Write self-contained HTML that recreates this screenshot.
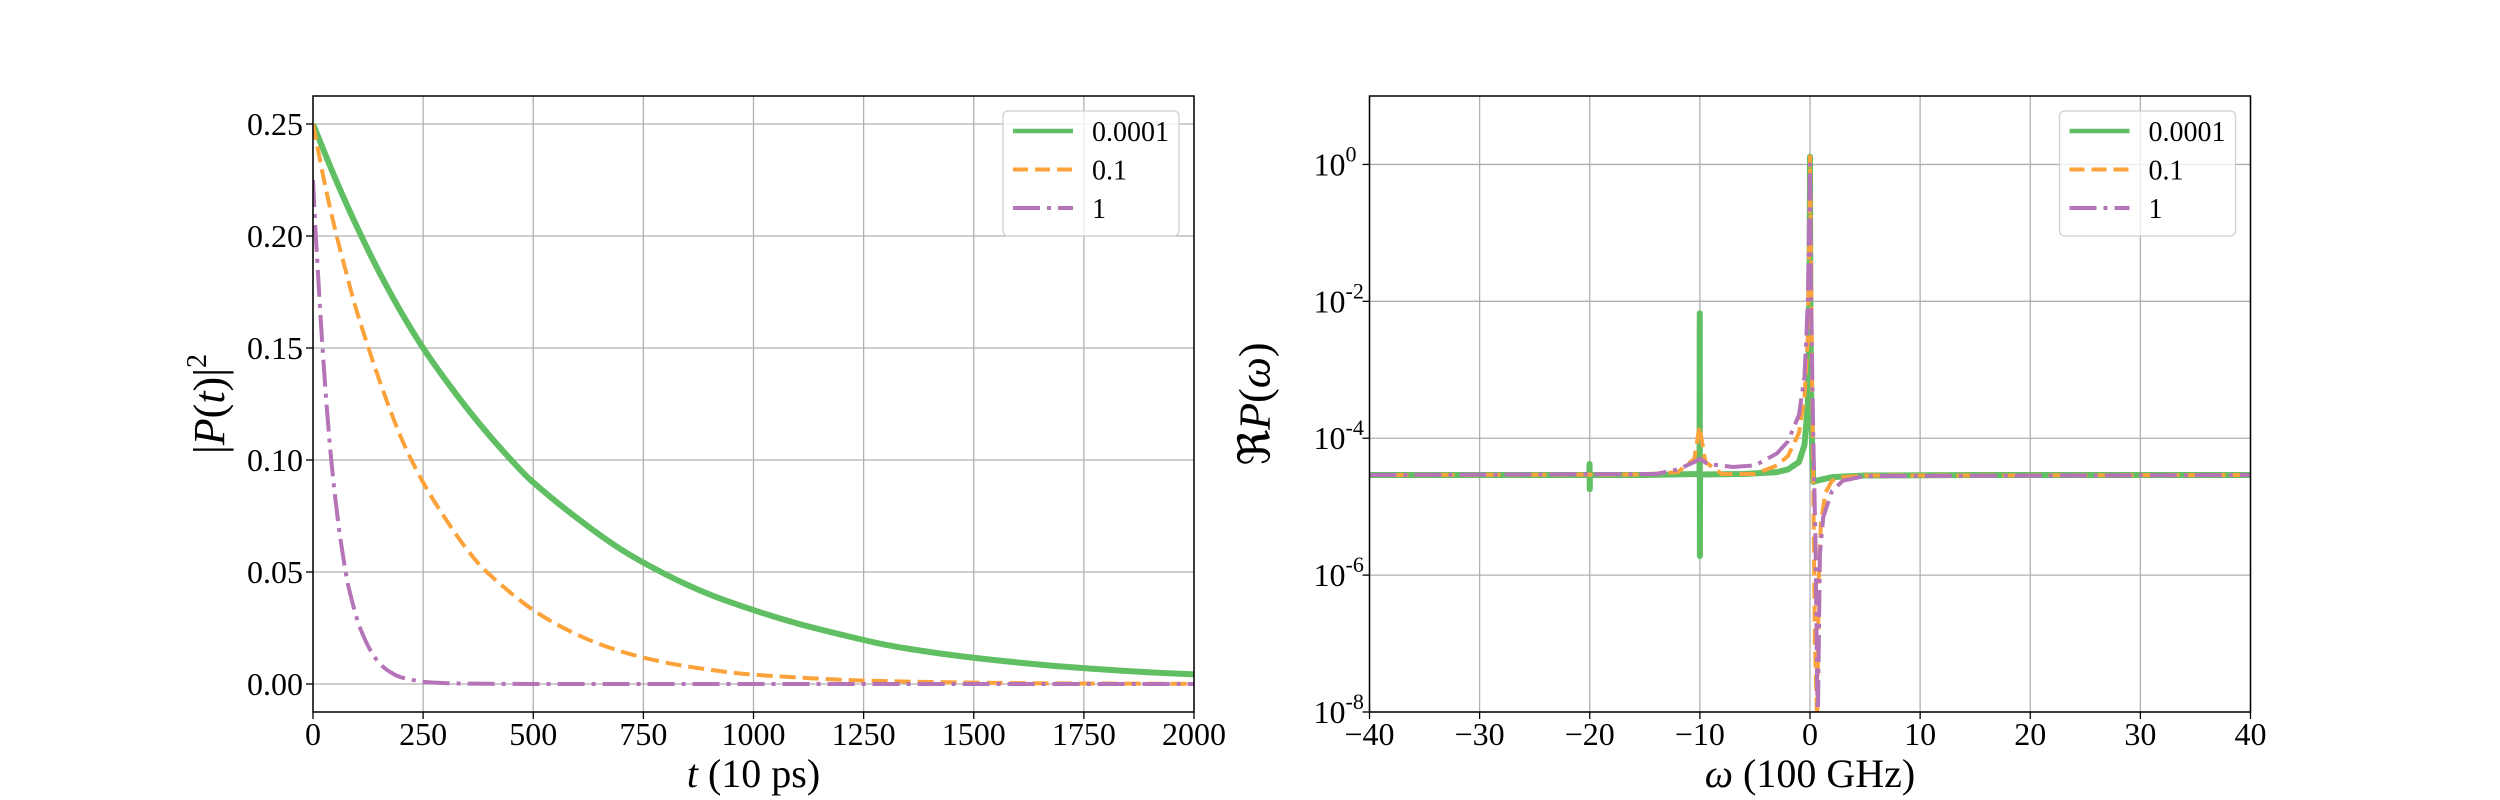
<!DOCTYPE html>
<html><head><meta charset="utf-8"><style>
html,body{margin:0;padding:0;background:#fff;}
svg{display:block;font-family:"Liberation Serif","DejaVu Serif",serif;}
</style></head><body>
<svg id="fig" width="2500" height="800" viewBox="0 0 2500 800" xmlns="http://www.w3.org/2000/svg">
<g id="left"></g>
<g id="right"></g>
</svg>
<script>
// ---------- data: left panel ----------
const tGreen = [0,50,100,150,200,250,300,350,400,450,500,600,700,800,900,1000,1100,1200,1300,1400,1500,1600,1700,1800,1900,2000];
const pGreen = [0.25,0.226,0.204,0.184,0.166,0.150,0.136,0.123,0.111,0.100,0.090,0.074,0.060,0.049,0.040,0.033,0.027,0.022,0.0175,0.0143,0.0117,0.0096,0.0078,0.0064,0.0052,0.0043];
const tOrange = [0,25,50,75,100,150,200,250,300,350,400,500,600,700,800,900,1000,1200,1400,1600,1800,2000];
const pOrange = [0.25,0.225,0.203,0.184,0.166,0.136,0.110,0.090,0.074,0.060,0.049,0.033,0.022,0.0145,0.0096,0.0064,0.0042,0.0019,0.0009,0.0004,0.0002,0.0001];
const tPurple = [0,5,10,20,30,40,50,60,70,80,100,120,140,160,180,200,250,300,400,600,1000,1500,2000];
const pPurple = [0.225,0.205,0.188,0.155,0.127,0.103,0.084,0.068,0.055,0.044,0.029,0.019,0.012,0.0075,0.0048,0.003,0.001,0.0004,0.0001,0,0,0,0];
const xTicksL = [0,250,500,750,1000,1250,1500,1750,2000];
const yTicksL = [0,0.05,0.10,0.15,0.20,0.25];
const yTickLabelsL = ["0.00","0.05","0.10","0.15","0.20","0.25"];

// ---------- data: right panel ----------
const wGreen = [-40,-25,-20.05,-20.02,-20,-19.98,-15,-10.1,-10.03,-10.01,-10,-9.98,-9.9,-6,-3,-2,-1,-0.5,-0.2,-0.1,-0.03,0,0.03,0.1,0.2,0.3,0.6,2,5,15,40];
const rGreen = [2.9e-5,2.9e-5,2.9e-5,4.2e-5,1.8e-5,2.9e-5,2.9e-5,3.0e-5,3.0e-5,6.7e-3,1.9e-6,3.0e-5,2.95e-5,3.0e-5,3.2e-5,3.5e-5,4.5e-5,8e-5,3e-4,2e-3,5e-2,1.3,1e-2,5e-4,6e-5,2.3e-5,2.4e-5,2.7e-5,2.85e-5,2.9e-5,2.9e-5];
const wOrange = [-40,-15,-12,-10.5,-10.1,-10,-9.9,-9.5,-8,-5,-3,-2,-1,-0.5,-0.2,-0.05,0,0.1,0.2,0.3,0.45,0.6,0.65,0.8,1.0,1.4,2,3,5,40];
const rOrange = [2.9e-5,2.95e-5,3.2e-5,5e-5,1.3e-4,1.5e-4,1.1e-4,4.5e-5,3.0e-5,3.0e-5,4e-5,5.5e-5,1.2e-4,4e-4,3e-3,1e-1,1.3,3e-2,5e-4,2e-5,1e-7,1.5e-8,5e-9,1e-6,6e-6,1.6e-5,2.4e-5,2.7e-5,2.85e-5,2.9e-5];
const wPurple = [-40,-14,-12,-10.5,-10,-9.3,-7,-5,-3,-2,-1,-0.5,-0.3,-0.2,0,0.1,0.3,0.5,0.7,0.9,1.2,2,3,5,40];
const rPurple = [2.9e-5,3.0e-5,3.5e-5,4.5e-5,5e-5,4.2e-5,3.8e-5,4.0e-5,6e-5,9e-5,2.2e-4,8e-4,4e-3,1e-2,1.0,1e-2,1e-4,3e-6,5e-9,2e-6,7e-6,1.7e-5,2.4e-5,2.8e-5,2.9e-5];
const xTicksR = [-40,-30,-20,-10,0,10,20,30,40];
const yExpR = [0,-2,-4,-6,-8];

const legendLabels = ["0.0001","0.1","1"];
const colors = ["#5fbf62","#fca23a","#b474b7"];
const dashes = ["", "16 7", "27 7 4 7"];
const widths = [6,4,4];
const legendWidths = [4.5,4,4];

const NS="http://www.w3.org/2000/svg";
function mk(tag,attrs,parent){const e=document.createElementNS(NS,tag);for(const k in attrs)e.setAttribute(k,attrs[k]);parent.appendChild(e);return e;}

function smoothPath(P){
  let d='M'+P[0][0].toFixed(2)+','+P[0][1].toFixed(2);
  for(let i=0;i<P.length-1;i++){
    const p0=P[Math.max(0,i-1)],p1=P[i],p2=P[i+1],p3=P[Math.min(P.length-1,i+2)];
    const c1=[p1[0]+(p2[0]-p0[0])/6,p1[1]+(p2[1]-p0[1])/6];
    const c2=[p2[0]-(p3[0]-p1[0])/6,p2[1]-(p3[1]-p1[1])/6];
    d+='C'+c1[0].toFixed(2)+','+c1[1].toFixed(2)+' '+c2[0].toFixed(2)+','+c2[1].toFixed(2)+' '+p2[0].toFixed(2)+','+p2[1].toFixed(2);
  }
  return d;
}

const yTop=96,yBot=712;
function panel(g,x0,x1,xs,ys,xt,xtl,yt,ytl,isLog,series,xlabel,ylabel,smooth){
  xt.forEach((v,i)=>{const x=xs(v);
    const gl=mk('line',{x1:x,x2:x,y1:yTop,y2:yBot,stroke:'#b0b0b0','stroke-width':1.3},g);
    
    
    mk('line',{x1:x,x2:x,y1:yBot,y2:yBot+7,stroke:'#000','stroke-width':1.3},g);
    const t=mk('text',{x:x,y:745,'font-size':32,'text-anchor':'middle'},g);
    
    
    t.textContent=xtl[i];});
  yt.forEach((v,i)=>{const y=ys(v);
    const gl=mk('line',{x1:x0,x2:x1,y1:y,y2:y,stroke:'#b0b0b0','stroke-width':1.3},g);
    
    
    mk('line',{x1:x0-7,x2:x0,y1:y,y2:y,stroke:'#000','stroke-width':1.3},g);
    const t=mk('text',{x:isLog?x0-24:x0-10,y:y+11,'font-size':32,'text-anchor':'end'},g);
    
    
    if(isLog){t.textContent='10';
      const s2=mk('text',{x:x0-24,y:y-3,'font-size':22},g);
      
      
      s2.textContent=ytl[i];}
    else t.textContent=ytl[i];});
  const cid='clip'+Math.round(x0);
  const cp=mk('clipPath',{id:cid},g);mk('rect',{x:x0,y:yTop,width:x1-x0,height:yBot-yTop},cp);
  series.forEach((s,k)=>{
    const P=s.x.map((v,i)=>{let Y=ys(s.y[i]);if(!isFinite(Y))Y=yBot+50;return [xs(v),Y];});
    let d;
    if(smooth) d=smoothPath(P);
    else d=P.map((p,i)=>(i?'L':'M')+p[0].toFixed(2)+','+p[1].toFixed(2)).join('');
    const p=mk('path',{d:d,fill:'none',stroke:colors[k],'stroke-width':widths[k],'clip-path':'url(#'+cid+')','stroke-linejoin':'round'},g);
    if(dashes[k])p.setAttribute('stroke-dasharray',dashes[k]);
    
    
  });
  const fr=mk('rect',{x:x0,y:yTop,width:x1-x0,height:yBot-yTop,fill:'none',stroke:'#000','stroke-width':1.5},g);
  
  
  const lx=x1-191, ly=111;
  const lg=mk('g',{},g);
  
  
  mk('rect',{x:lx,y:ly,width:176,height:125,rx:5,fill:'#fff','fill-opacity':0.8,stroke:'#d0d0d0','stroke-width':1.3},lg);
  legendLabels.forEach((lab,k)=>{const yy=ly+20+k*38.5;
    const ln=mk('line',{x1:lx+10,x2:lx+70,y1:yy,y2:yy,stroke:colors[k],'stroke-width':legendWidths[k]},lg);
    if(dashes[k])ln.setAttribute('stroke-dasharray',k==1?'15 7':'27 7 4 7');
    
    
    const t=mk('text',{x:lx+89,y:yy+10,'font-size':28},lg);
    
    
    t.textContent=lab;});
  const xl=mk('text',{x:(x0+x1)/2,y:787,'font-size':40,'text-anchor':'middle'},g);
  
  
  xl.innerHTML=xlabel;
  const yl=mk('text',{x:0,y:0,'font-size':44,'text-anchor':'middle',transform:'translate('+(isLog?x0-100:224)+','+(yTop+yBot)/2+') rotate(-90)'},g);
  
  
  yl.innerHTML=ylabel;
}
const Lx0=313,Lx1=1194;
const xsL=v=>Lx0+(v-0)/(2000-0)*(Lx1-Lx0);
const ysL=v=>yBot-(v-(-0.0125))/(0.2625+0.0125)*(yBot-yTop);
panel(document.getElementById('left'),Lx0,Lx1,xsL,ysL,xTicksL,xTicksL.map(String),yTicksL,yTickLabelsL,false,
 [{x:tGreen,y:pGreen},{x:tOrange,y:pOrange},{x:tPurple,y:pPurple}],
 '<tspan font-style="italic">t</tspan> (10 ps)','|<tspan font-style="italic">P</tspan>(<tspan font-style="italic">t</tspan>)|<tspan dy="-18" font-size="28">2</tspan>',true);
const Rx0=1369.5,Rx1=2250.5;
const xsR=v=>Rx0+(v+40)/80*(Rx1-Rx0);
const ysR=v=>{if(v<=0)return Infinity;return yBot-(Math.log10(v)+8)/9*(yBot-yTop);};
panel(document.getElementById('right'),Rx0,Rx1,xsR,ysR,xTicksR,xTicksR.map(v=>v<0?'\u2212'+(-v):String(v)),yExpR.map(e=>Math.pow(10,e)),yExpR.map(String),true,
 [{x:wGreen,y:rGreen},{x:wOrange,y:rOrange},{x:wPurple,y:rPurple}],
 '<tspan font-style="italic">ω</tspan> (100 GHz)','ℜ<tspan font-style="italic">P</tspan>(<tspan font-style="italic">ω</tspan>)',false);
</script>
</body></html>
